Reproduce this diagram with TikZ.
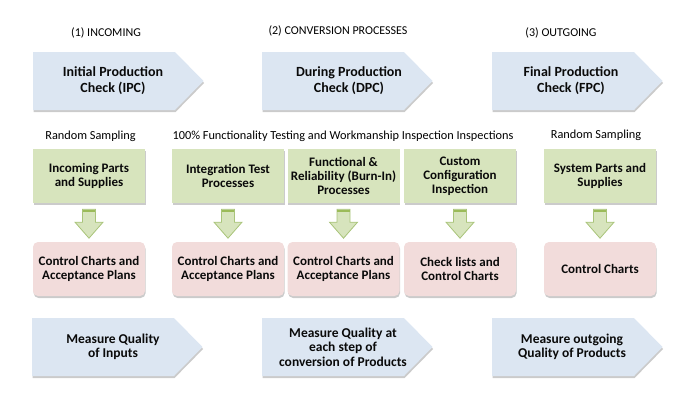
\documentclass[tikz,border=0pt]{standalone}
\usepackage{fontspec}
\setmainfont{Carlito}
\usetikzlibrary{shadows}
\definecolor{chev}{HTML}{DCE6F2}
\definecolor{gbox}{HTML}{D7E4BD}
\definecolor{pbox}{HTML}{F2DCDB}
\definecolor{arrowline}{HTML}{A9C47A}
\definecolor{arrowtop}{HTML}{9BBB59}
\definecolor{txt}{HTML}{0A0A0A}
\tikzset{
  shad/.style={drop shadow={shadow xshift=0.6pt, shadow yshift=-2pt, fill=black!45, opacity=0.45}},
  chevtext/.style={text=txt, align=center, font=\fontsize{14}{16}\selectfont\bfseries},
  chevtextb/.style={text=txt, align=center, font=\fontsize{13.5}{14.5}\selectfont\bfseries},
  titletext/.style={text=black, font=\fontsize{12}{14}\selectfont},
  labeltext/.style={text=black, font=\fontsize{12.3}{14}\selectfont},
  greenbox/.style={rectangle, fill=gbox, shad, minimum width=112pt, minimum height=54pt, inner sep=0pt,
     text=txt, align=center, font=\fontsize{13}{14}\selectfont\bfseries},
  pinkbox/.style={rectangle, rounded corners=5pt, fill=pbox, shad, minimum width=112pt, minimum height=54pt, inner sep=0pt,
     text=txt, align=center, font=\fontsize{13}{14}\selectfont\bfseries},
  downarrow/.pic={
    \filldraw[fill=gbox, draw=arrowline, line width=0.8pt, line join=miter]
      (-6.5,6) -- (6.5,6) -- (6.5,19) -- (14,19) -- (0,35) -- (-14,19) -- (-6.5,19) -- cycle;
    \fill[arrowtop] (-6.1,6.4) rectangle (6.1,9.2);
  }
}
\newcommand\chevshape[2]{% left x, top y
  \fill[chev, shad] (#1,#2) -- ++(142,0) -- ++(28.5,29) -- ++(-28.5,29) -- ++(-142,0) -- cycle;
}
\begin{document}
\begin{tikzpicture}[x=1pt, y=-1pt]
\useasboundingbox (0,0) rectangle (695,413);
% titles
\node[titletext] (t1) at (106,33) {(1) INCOMING};
\node[titletext] (t2) at (338,31) {(2) CONVERSION PROCESSES};
\node[titletext] (t3) at (561,33) {(3) OUTGOING};
% top chevrons
\chevshape{33}{52}
\chevshape{262}{52}
\chevshape{492}{52}
\node[chevtext] (c1) at (113,81) {Initial Production\\Check (IPC)};
\node[chevtext] (c2) at (349,81) {During Production\\Check (DPC)};
\node[chevtext] (c3) at (571,81) {Final Production\\Check (FPC)};
% labels
\node[labeltext] (l1) at (90.5,136) {Random Sampling};
\node[labeltext] (l2) at (343,136) {100\% Functionality Testing and Workmanship Inspection Inspections};
\node[labeltext] (l3) at (596,135) {Random Sampling};
% green boxes
\node[greenbox] (g1) at (89,176) {Incoming Parts\\and Supplies};
\node[greenbox] (g2) at (228,176) {Integration Test\\Processes};
\node[greenbox] (g3) at (343.5,176) {Functional \&\\Reliability (Burn-In)\\Processes};
\node[greenbox] (g4) at (460,176) {Custom\\Configuration\\Inspection};
\node[greenbox] (g5) at (600,176) {System Parts and\\Supplies};
% pink boxes
\node[pinkbox] (p1) at (89,269) {Control Charts and\\Acceptance Plans};
\node[pinkbox] (p2) at (228,269) {Control Charts and\\Acceptance Plans};
\node[pinkbox] (p3) at (343.5,269) {Control Charts and\\Acceptance Plans};
\node[pinkbox] (p4) at (460,269) {Check lists and\\Control Charts};
\node[pinkbox] (p5) at (600,269) {Control Charts};
% arrows
\foreach \g in {g1,g2,g3,g4,g5} { \pic at (\g.south) {downarrow}; }
% bottom chevrons
\chevshape{32}{318}
\chevshape{262}{318}
\chevshape{492}{318}
\node[chevtextb] (b1) at (113,347) {Measure Quality\\of Inputs};
\node[chevtextb] (b2) at (343,347) {Measure Quality at\\each step of\\conversion of Products};
\node[chevtextb] (b3) at (572,347) {Measure outgoing\\Quality of Products};
\end{tikzpicture}
\end{document}
